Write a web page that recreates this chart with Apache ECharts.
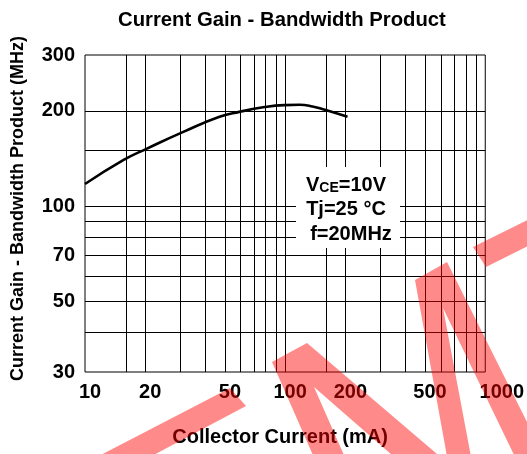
<!DOCTYPE html>
<html><head><meta charset="utf-8">
<script src="https://cdn.jsdelivr.net/npm/echarts@6/dist/echarts.min.js"></script>
<style>html,body{margin:0;padding:0;background:#fff}#c{width:527px;height:454px}</style>
</head><body><div id="c"></div>
<script>
// ---- data ----
const collectorCurrent = [10, 15.6, 20.4, 31, 47, 59, 79, 99, 118, 137, 158, 205];
const gainBandwidth   = [117.5, 140, 152, 171.7, 191.5, 198.5, 205.5, 208.5, 209, 206.5, 201.5, 191.5];
const xTickLabels = [10, 20, 50, 100, 200, 500, 1000];
const yTickLabels = [30, 50, 70, 100, 200, 300];
const xGridValues = [16, 20, 30, 40, 50, 60, 70, 80, 90, 100, 160, 200, 300, 400, 500, 600, 700, 800, 900];
const yGridValues = [40, 50, 60, 70, 80, 90, 100, 150, 200];
const titleText = 'Current Gain - Bandwidth Product';
const xName = 'Collector Current (mA)';
const yName = 'Current Gain - Bandwidth Product (MHz)';

const FONT = '"Liberation Sans", Arial, Helvetica, sans-serif';
const chart = echarts.init(document.getElementById('c'), null, {renderer: 'canvas'});

const curve = collectorCurrent.map((x, i) => [x, gainBandwidth[i]]);
const gridMarks = xGridValues.map(v => ({xAxis: v})).concat(yGridValues.map(v => ({yAxis: v})));

const wm = 'rgba(255,0,0,0.46)';
chart.setOption({
  animation: false,
  backgroundColor: '#fff',
  title: {
    text: titleText, left: 113, top: 5,
    textStyle: {fontSize: 20.3, fontWeight: 'bold', color: '#000', fontFamily: FONT}
  },
  grid: {left: 85, right: 41, top: 55, bottom: 82, show: true, borderColor: '#000', borderWidth: 1, backgroundColor: 'transparent'},
  xAxis: {
    type: 'log', logBase: 10, min: 10, max: 1000,
    name: xName, nameLocation: 'middle', nameGap: 55,
    nameTextStyle: {fontSize: 20, fontWeight: 'bold', color: '#000', fontFamily: FONT, padding: [0, 10, 0, 0]},
    axisLine: {show: false}, axisTick: {show: false}, splitLine: {show: false},
    axisLabel: {
      customValues: xTickLabels, margin: 10, showMinLabel: true, showMaxLabel: true, hideOverlap: false,
      formatter: v => (Math.round(v) === 1000 ? '{f|' + Math.round(v) + '}' : '{n|' + Math.round(v) + '}'),
      rich: {
        n: {fontSize: 20, fontWeight: 'bold', color: '#000', fontFamily: FONT, padding: [0, 0, 0, 10]},
        f: {fontSize: 20, fontWeight: 'bold', color: '#000', fontFamily: FONT, padding: [0, 0, 0, 33]}
      }
    }
  },
  yAxis: {
    type: 'log', logBase: 10, min: 30, max: 300,
    name: yName, nameLocation: 'middle', nameGap: 58,
    nameTextStyle: {fontSize: 18, fontWeight: 'bold', color: '#000', fontFamily: FONT, padding: [0, 0, 0, 10]},
    axisLine: {show: false}, axisTick: {show: false}, splitLine: {show: false},
    axisLabel: {
      customValues: yTickLabels, margin: 10, showMinLabel: true, showMaxLabel: true, hideOverlap: false,
      fontSize: 20, fontWeight: 'bold', color: '#000', fontFamily: FONT,
      formatter: v => String(Math.round(v))
    }
  },
  series: [{
    type: 'line', data: curve, showSymbol: false, smooth: 0.5, silent: true,
    lineStyle: {color: '#000', width: 2.6},
    markLine: {
      silent: true, symbol: ['none', 'none'], label: {show: false},
      lineStyle: {color: '#000', width: 1, type: 'solid'},
      emphasis: {disabled: true},
      data: gridMarks
    }
  }],
  graphic: [
    {type: 'rect', z: 50, shape: {x: 296, y: 167, width: 104, height: 81}, style: {fill: '#fff'}},
    {type: 'text', z: 51, x: 346, y: 184, style: {
      text: '{a|V}{b|CE}{a|=10V}', align: 'center', verticalAlign: 'middle',
      rich: {a: {fontSize: 20, fontWeight: 'bold', fill: '#000', fontFamily: FONT, lineHeight: 22, verticalAlign: 'bottom'},
             b: {fontSize: 14, fontWeight: 'bold', fill: '#000', fontFamily: FONT, lineHeight: 17, verticalAlign: 'bottom'}}
    }},
    {type: 'text', z: 51, x: 346, y: 209, style: {
      text: 'Tj=25 \u00B0C', align: 'center', verticalAlign: 'middle',
      font: 'bold 20px ' + FONT, fill: '#000'
    }},
    {type: 'text', z: 51, x: 351, y: 234, style: {
      text: 'f=20MHz', align: 'center', verticalAlign: 'middle',
      font: 'bold 20px ' + FONT, fill: '#000'
    }},
    // red watermark strokes
    {type: 'polygon', z: 100, silent: true, shape: {points: [[230, 388], [246, 406], [148, 458], [95, 458]]}, style: {fill: wm}},
    {type: 'polygon', z: 100, silent: true, shape: {points: [[272, 362], [307, 343], [437, 454], [445, 462], [400, 462], [314, 387], [347, 462], [316, 462]]}, style: {fill: wm}},
    {type: 'polygon', z: 100, silent: true, shape: {points: [[415, 280], [447, 262], [560, 488], [530, 488], [443, 308], [472, 462], [448, 462]]}, style: {fill: wm}},
    {type: 'polygon', z: 100, silent: true, shape: {points: [[473, 247], [486, 267], [560, 230], [560, 204]]}, style: {fill: wm}}
  ]
});
</script>
</body></html>
